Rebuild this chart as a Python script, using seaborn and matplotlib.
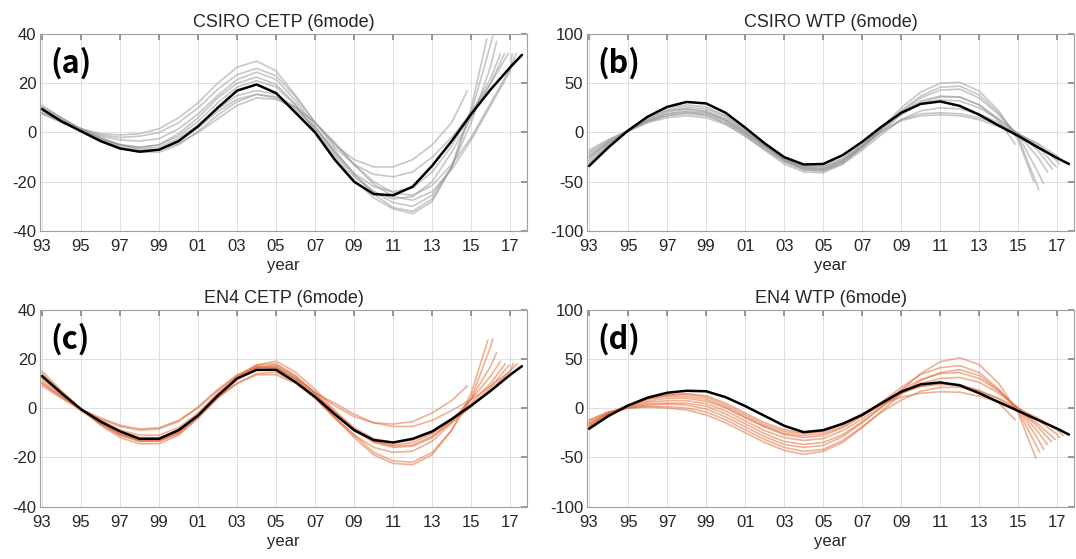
import numpy as np
import pandas as pd
import seaborn as sns
import matplotlib
matplotlib.use("Agg")
import matplotlib.pyplot as plt

# ---- data ----
tick_years = [1993, 1995, 1997, 1999, 2001, 2003, 2005, 2007, 2009, 2011, 2013, 2015, 2017]
tick_labels = ["93", "95", "97", "99", "01", "03", "05", "07", "09", "11", "13", "15", "17"]
black_end = 2017.6

# (a) CSIRO CETP
csiro_cetp_black = [9.5, 4.5, 0.5, -3.5, -6.5, -7.8, -7, -3.5, 2.5, 10, 17, 19.5, 16, 8, 0,
                    -11, -20, -25, -25.5, -22, -13.5, -3.5, 7.5, 17.5, 26.5, 31.5]
csiro_cetp_ends = [2014.8, 2015.8, 2016.1, 2016.3, 2016.5, 2016.7, 2016.9, 2017.1, 2017.3]
csiro_cetp_runs = [
    [8, 4.5, 1.5, -0.5, -1, -0.5, 1.5, 6, 12, 20, 26.5, 29, 25, 15, 4, -5, -11, -14, -14, -11, -5, 4, 17],
    [10.5, 6, 1.5, -2.5, -5, -6, -5, -0.5, 6, 14, 20, 22.5, 19.5, 11.5, 0.5, -10, -19.5, -26.5, -31, -33, -28, -14, 10, 38],
    [11, 6, 1, -3, -6, -7.5, -7, -3.5, 2, 8.5, 13.5, 15.5, 14, 9, 2, -7, -17, -25, -30.5, -32, -27, -14, 8, 36, 39],
    [9, 5, 1, -2.5, -5, -6.5, -6, -2.5, 3, 9.5, 15, 17, 15.5, 10, 2, -8, -17, -24, -28.5, -30, -25.5, -14, 4, 27, 37],
    [7.5, 4, 1, -1.5, -3, -3.5, -2.5, 1.5, 7.5, 15, 21.5, 24.5, 21.5, 13, 2.5, -8, -16.5, -22, -24, -22.5, -16, -5.5, 8, 22, 32],
    [9.5, 5, 1, -2.5, -5, -6, -5, -1.5, 4.5, 12, 18.5, 21, 18.5, 11, 1, -9, -18, -24, -27, -26, -20, -8, 6, 20, 32],
    [8, 4.5, 1.5, -1, -2, -1.5, 0, 4, 10, 17.5, 23.5, 26, 23, 14.5, 4, -6, -13, -17, -18, -16, -10, -2, 8, 20, 32],
    [9, 5, 1.5, -2, -5, -7, -7, -4.5, 0, 5.5, 11, 14, 13.5, 10, 4, -4, -13, -21, -26, -27.5, -24, -15, -3, 11, 25, 32],
    [10, 5.5, 1.5, -2.5, -6, -8, -8, -5, 0.5, 7, 12.5, 15.5, 14.5, 10.5, 4, -4.5, -13, -20, -24.5, -25.5, -21.5, -13, -2, 12, 26, 32],
]

# (b) CSIRO WTP
csiro_wtp_black = [-34, -15, 2, 16, 26, 31, 29.5, 20, 5, -11, -25, -32.5, -32, -23, -9.5, 6,
                   20, 29, 31.5, 27, 18, 7, -3.5, -15, -26, -32]
csiro_wtp_ends = [2014.85, 2015.8, 2016.05, 2016.3, 2016.5, 2016.75, 2016.95, 2017.1, 2017.3]
csiro_wtp_runs = [
    [-20, -8, 2, 11, 17, 19, 17, 10, -1, -14, -28, -37, -38, -30, -16, 1, 18, 30, 36, 36, 28, 12, -12],
    [-25, -10, 2, 12, 19, 21, 18, 9, -4, -18, -32, -40, -41, -32, -15, 5, 25, 41, 50, 51, 42, 22, -8, -50],
    [-28, -12, 2, 14, 22, 24, 21, 12, -2, -17, -30, -38, -39, -30, -14, 4, 22, 37, 46, 47, 38, 20, -5, -55, -58],
    [-22, -9, 2, 13, 21, 24, 22, 14, 1, -14, -28, -36, -37, -29, -14, 3, 21, 35, 43, 44, 35, 18, -3, -40, -52],
    [-30, -13, 2, 15, 23, 26, 24, 16, 2, -13, -27, -35, -35, -27, -13, 4, 20, 32, 37, 36, 28, 14, -2, -25, -40],
    [-32, -14, 2, 16, 25, 28, 26, 17, 3, -12, -26, -34, -34, -26, -12, 4, 19, 29, 33, 32, 25, 13, -1, -18, -37],
    [-24, -10, 1, 10, 15, 17, 15, 8, -3, -16, -29, -38, -39, -32, -18, -2, 13, 22, 25, 24, 19, 10, -1, -14, -35],
    [-18, -7, 2, 11, 17, 20, 19, 12, 0, -14, -27, -35, -36, -28, -14, 1, 13, 19, 20, 19, 15, 8, -1, -12, -29, -32],
    [-26, -11, 1, 12, 19, 22, 20, 13, 0, -14, -28, -36, -37, -29, -15, 1, 12, 17, 18, 17, 13, 6, -2, -11, -24, -30],
]

# (c) EN4 CETP
en4_cetp_black = [13, 6, -0.5, -5.5, -9.5, -12.5, -12.5, -9, -3, 5, 12, 15.5, 15.5, 10.5, 4.5,
                  -2.5, -9, -13, -14, -12.5, -9.5, -4.5, 1, 7, 13.5, 17]
en4_cetp_ends = [2014.8, 2015.85, 2016.1, 2016.3, 2016.5, 2016.75, 2016.95, 2017.15, 2017.35]
en4_cetp_runs = [
    [11, 5, -0.5, -4, -7, -8.5, -8, -5, 0, 7, 13, 16.5, 16, 12, 6.5, 1, -3.5, -6, -6.5, -5.5, -2, 3, 9],
    [14, 6.5, -0.5, -6.5, -11, -13.5, -13.5, -10, -3.5, 4.5, 10, 13.5, 13.5, 10, 4, -4, -12, -19, -22.5, -23, -19, -9, 6, 27.5],
    [12, 5.5, -0.5, -6, -10.5, -13, -13, -9.5, -3, 5, 12, 16.5, 16.5, 11.5, 4.5, -3.5, -11, -18, -21.5, -22, -18, -9, 4, 25, 28],
    [15, 7, -0.5, -7, -12, -14.5, -14.5, -11, -4, 4, 10, 14, 14.5, 10.5, 4, -4, -11, -16, -18, -17.5, -13.5, -6, 4, 17, 22.5],
    [10, 4.5, -0.5, -5, -9, -11, -11, -8, -2, 6, 13, 17.5, 18, 13, 6, -2, -9, -14, -16, -15.5, -12, -5, 3.5, 13, 19],
    [13, 6, -1, -6.5, -11, -13.5, -13.5, -10.5, -4, 4, 11.5, 16.5, 17.5, 13, 6, -2, -9, -13.5, -15, -14, -10.5, -5, 2, 10, 18],
    [12.5, 6, -0.5, -6, -10.5, -13, -13, -10, -3.5, 4.5, 12, 16.5, 17, 12, 5.5, -1.5, -8, -12.5, -14, -13, -10, -5, 1, 8.5, 17.5],
    [9, 4, -1, -5.5, -9.5, -12, -12, -9, -3, 5, 12.5, 17.5, 19, 14.5, 7.5, -1, -8.5, -13.5, -15.5, -15, -11.5, -6, 0.5, 7.5, 15, 18],
    [10, 4.5, -0.5, -4.5, -7.5, -9, -8.5, -5.5, 0.5, 7.5, 13.5, 17, 16.5, 12, 6, 2, -2.5, -6, -7.5, -7.5, -5, -1, 3.5, 9, 15, 18],
]

# (d) EN4 WTP
en4_wtp_black = [-21, -8, 2.5, 10.5, 15.5, 17.5, 17, 11, 2, -8, -18, -24.5, -22.5, -16, -7, 5,
                 16.5, 24, 26, 23, 15, 6, -3, -12, -21, -27]
en4_wtp_ends = [2014.85, 2015.9, 2016.1, 2016.3, 2016.5, 2016.7, 2016.9, 2017.1, 2017.3]
en4_wtp_runs = [
    [-15, -5, 1.5, 5.5, 7.5, 7.5, 4.5, -3, -13, -23, -30, -33, -31, -23, -11, 3, 15, 22, 25, 24, 17, 5, -12],
    [-18, -6, 0, 3, 4, 3, -1, -9, -19, -29, -37, -40, -38, -29, -15, 1, 18, 35, 47, 51, 44, 25, -5, -51],
    [-20, -6, 3, 9, 12, 12, 9, 1, -9, -19, -27, -30, -28, -20, -8, 6, 21, 34, 41, 43, 36, 19, -3, -41, -45],
    [-12, -4, 0, 1, 0, -2, -7, -15, -25, -35, -43, -47, -44, -35, -20, -3, 14, 28, 36, 39, 33, 18, -1, -31, -42],
    [-16, -5, 2, 7, 10, 10, 7, 0, -10, -19, -26, -28, -26, -19, -8, 5, 18, 29, 35, 36, 30, 17, 0, -24, -37],
    [-19, -6, 1, 4, 5, 5, 2, -6, -16, -26, -34, -37, -35, -27, -14, 1, 15, 25, 30, 31, 26, 15, 0, -19, -34],
    [-22, -7, 3, 10, 13.5, 14, 11, 3, -7, -17, -24, -26, -24, -17, -6, 6, 16, 22, 24, 23, 18, 9, -2, -16, -32],
    [-13, -4, 0, 1.5, 1.5, 0, -4, -12, -22, -32, -40, -44, -42, -33, -19, -4, 8, 17, 21, 21, 17, 10, 0, -12, -27, -30],
    [-17, -5, 2.5, 9, 13, 14.5, 12.5, 5, -5, -15, -22, -25, -23, -16, -6, 4, 11, 15, 16.5, 16, 12, 6, -1, -10, -22, -28],
]


def years_for(vals, end):
    return list(range(1993, 1993 + len(vals) - 1)) + [end]


def runs_frame(runs, ends):
    parts = []
    for i, (vals, end) in enumerate(zip(runs, ends)):
        parts.append(pd.DataFrame({"year": years_for(vals, end), "value": vals, "run": i}))
    return pd.concat(parts, ignore_index=True)


sns.set_theme(style="white")
plt.rcParams["font.family"] = ["Liberation Sans", "DejaVu Sans"]
plt.rcParams["axes.unicode_minus"] = False

fig = plt.figure(figsize=(10.76, 5.59), dpi=100)
w, h = 0.452, 0.3524
positions = [(0.0376, 0.5868), (0.546, 0.5868), (0.0376, 0.0939), (0.546, 0.0939)]

panels = [
    ("CSIRO CETP (6mode)", "(a)", csiro_cetp_black, csiro_cetp_runs, csiro_cetp_ends, "#9a9a9a", 40, [-40, -20, 0, 20, 40]),
    ("CSIRO WTP (6mode)", "(b)", csiro_wtp_black, csiro_wtp_runs, csiro_wtp_ends, "#9a9a9a", 100, [-100, -50, 0, 50, 100]),
    ("EN4 CETP (6mode)", "(c)", en4_cetp_black, en4_cetp_runs, en4_cetp_ends, "#e2703f", 40, [-40, -20, 0, 20, 40]),
    ("EN4 WTP (6mode)", "(d)", en4_wtp_black, en4_wtp_runs, en4_wtp_ends, "#e2703f", 100, [-100, -50, 0, 50, 100]),
]

for (left, bottom), (title, tag, black, runs, ends, col, lim, yticks) in zip(positions, panels):
    ax = fig.add_axes([left, bottom, w, h])
    df = runs_frame(runs, ends)
    sns.lineplot(data=df, x="year", y="value", units="run", estimator=None,
                 color=col, alpha=0.55, lw=1.2, ax=ax)
    bdf = pd.DataFrame({"year": years_for(black, black_end), "value": black})
    sns.lineplot(data=bdf, x="year", y="value", color="black", lw=1.8, ax=ax)

    ax.set_xlim(1992.92, 2017.85)
    ax.set_ylim(-lim, lim)
    ax.set_xticks(tick_years)
    ax.set_xticklabels(tick_labels)
    ax.set_yticks(yticks)
    ax.grid(True, color="#dedede", lw=0.7)
    ax.set_axisbelow(True)
    ax.tick_params(direction="in", length=4, top=True, right=True, labelsize=12,
                   colors="#8a8a8a", labelcolor="#262626")
    ax.tick_params(axis="x", pad=6)
    ax.tick_params(axis="y", pad=3)
    for s in ax.spines.values():
        s.set_color("#a0a0a0")
        s.set_linewidth(0.8)
    ax.set_xlabel("year", fontsize=12, color="#262626", labelpad=3)
    ax.set_ylabel("")
    ax.set_title(title, fontsize=13, color="#262626", pad=5)
    ax.text(0.02, 0.85, tag, transform=ax.transAxes, fontsize=22, fontweight="bold",
            family=["Noto Sans CJK KR", "DejaVu Sans"], va="center", ha="left", color="black")

fig.savefig("out.png", dpi=100)
